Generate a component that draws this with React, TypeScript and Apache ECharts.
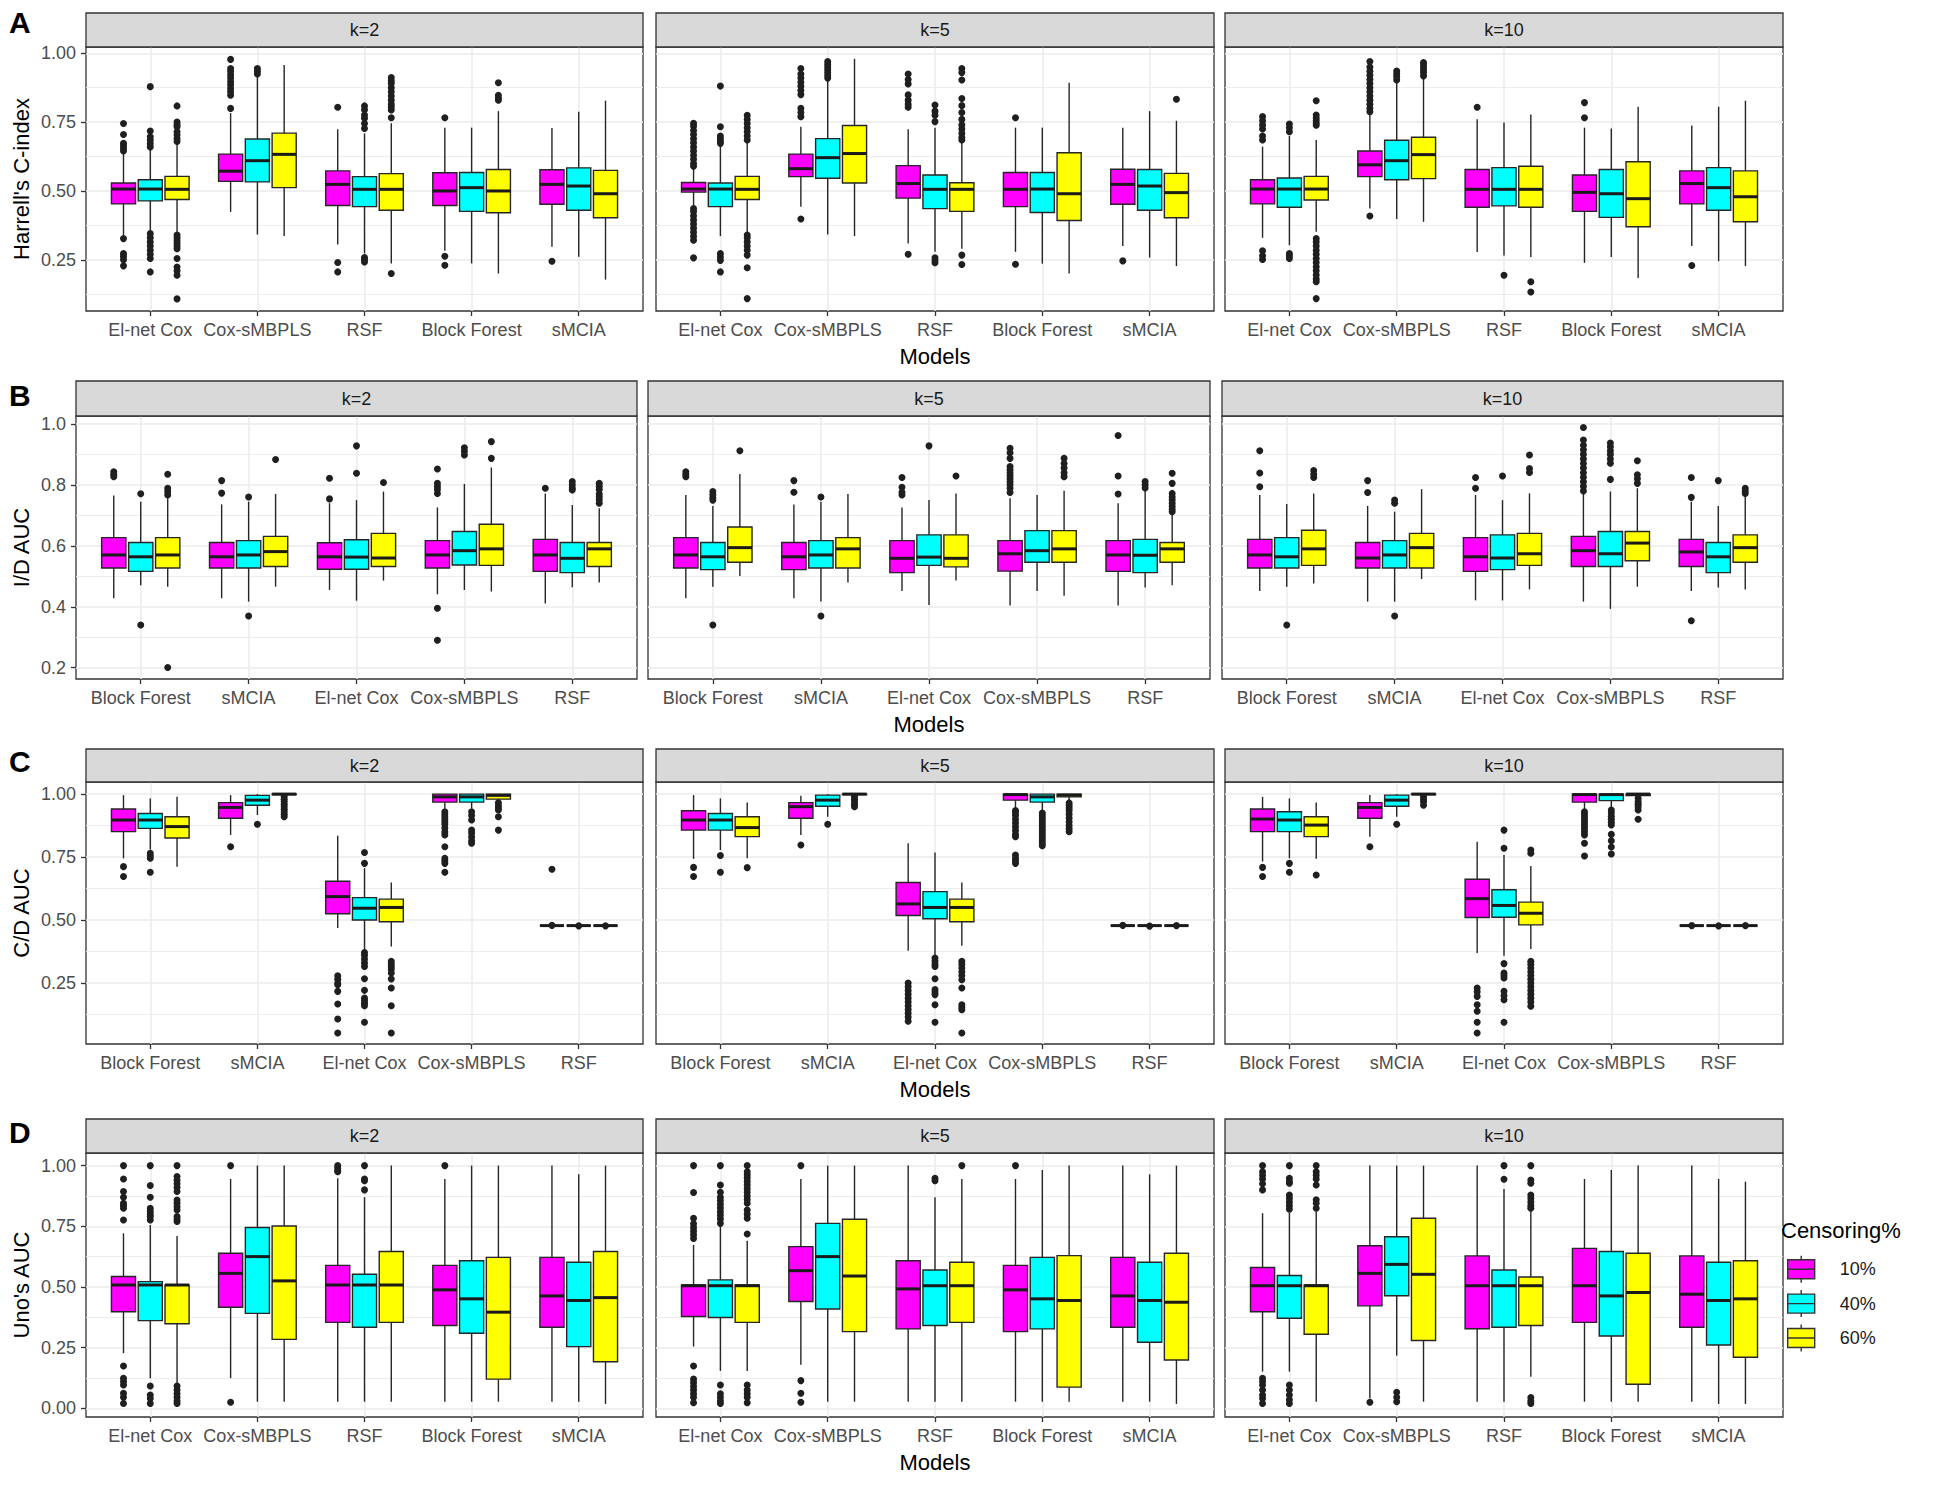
import React, { useEffect, useRef } from "react";
import * as echarts from "echarts";

// ---------- categories / labels ----------
const modelsAD = ["El-net Cox", "Cox-sMBPLS", "RSF", "Block Forest", "sMCIA"];
const modelsBC = ["Block Forest", "sMCIA", "El-net Cox", "Cox-sMBPLS", "RSF"];
const facets = ["k=2", "k=5", "k=10"];
const censoring = ["10%", "40%", "60%"];
const fills = ["#FF00FF", "#00FFFF", "#FFFF00"];

const ticksA = [0.25, 0.5, 0.75, 1.0];
const minorA = [0.125, 0.375, 0.625, 0.875];
const ticksB = [0.2, 0.4, 0.6, 0.8, 1.0];
const minorB = [0.3, 0.5, 0.7, 0.9];
const ticksC = [0.25, 0.5, 0.75, 1.0];
const minorC = [0.125, 0.375, 0.625, 0.875];
const ticksD = [0, 0.25, 0.5, 0.75, 1.0];
const minorD = [0.125, 0.375, 0.625, 0.875];

// box = [lower whisker, Q1, median, Q3, upper whisker]; [censoring][model]
// ---------- A: Harrell's C-index ----------
const harrellK2Box = [
  [[0.340, 0.453, 0.507, 0.529, 0.640], [0.424, 0.535, 0.572, 0.634, 0.783], [0.306, 0.447, 0.524, 0.573, 0.724], [0.283, 0.447, 0.500, 0.566, 0.730], [0.297, 0.452, 0.524, 0.577, 0.729]],
  [[0.350, 0.464, 0.507, 0.541, 0.655], [0.342, 0.533, 0.610, 0.689, 0.920], [0.273, 0.443, 0.506, 0.552, 0.709], [0.237, 0.426, 0.512, 0.567, 0.730], [0.261, 0.430, 0.518, 0.584, 0.788]],
  [[0.350, 0.469, 0.506, 0.553, 0.675], [0.336, 0.512, 0.633, 0.710, 0.958], [0.237, 0.430, 0.506, 0.563, 0.746], [0.200, 0.421, 0.500, 0.578, 0.790], [0.178, 0.403, 0.490, 0.575, 0.828]],
];
const harrellK2Out = [
  [[0.745, 0.705, 0.673, 0.665, 0.655, 0.645, 0.327, 0.273, 0.262, 0.250, 0.228], [0.800, 0.848, 0.860, 0.872, 0.885, 0.897, 0.910, 0.922, 0.935, 0.945, 0.978], [0.804, 0.240, 0.206], [0.766, 0.263, 0.230], [0.245]],
  [[0.879, 0.718, 0.697, 0.685, 0.672, 0.660, 0.345, 0.330, 0.315, 0.300, 0.285, 0.270, 0.255, 0.206], [0.925, 0.935, 0.945], [0.809, 0.795, 0.776, 0.764, 0.745, 0.727, 0.258, 0.250, 0.242], [], []],
  [[0.809, 0.750, 0.740, 0.733, 0.715, 0.703, 0.690, 0.680, 0.340, 0.330, 0.320, 0.310, 0.300, 0.290, 0.255, 0.224, 0.210, 0.194, 0.108], [], [0.766, 0.794, 0.805, 0.815, 0.830, 0.845, 0.860, 0.875, 0.890, 0.900, 0.912, 0.200], [0.893, 0.848, 0.838, 0.830], []],
];
const harrellK5Box = [
  [[0.443, 0.496, 0.507, 0.531, 0.584], [0.443, 0.552, 0.581, 0.634, 0.733], [0.309, 0.474, 0.527, 0.592, 0.724], [0.279, 0.443, 0.506, 0.567, 0.730], [0.300, 0.452, 0.524, 0.579, 0.730]],
  [[0.336, 0.443, 0.507, 0.529, 0.660], [0.342, 0.546, 0.621, 0.690, 0.903], [0.279, 0.436, 0.506, 0.558, 0.730], [0.236, 0.422, 0.507, 0.567, 0.730], [0.258, 0.430, 0.518, 0.578, 0.790]],
  [[0.350, 0.469, 0.506, 0.553, 0.680], [0.336, 0.529, 0.636, 0.738, 0.980], [0.290, 0.426, 0.506, 0.530, 0.677], [0.200, 0.393, 0.490, 0.639, 0.893], [0.227, 0.403, 0.494, 0.564, 0.755]],
];
const harrellK5Out = [
  [[0.746, 0.735, 0.720, 0.705, 0.690, 0.675, 0.660, 0.645, 0.630, 0.615, 0.600, 0.590, 0.436, 0.425, 0.410, 0.395, 0.380, 0.365, 0.350, 0.335, 0.321, 0.257], [0.770, 0.785, 0.800, 0.850, 0.865, 0.880, 0.895, 0.910, 0.925, 0.945, 0.398], [0.804, 0.815, 0.830, 0.849, 0.889, 0.905, 0.925, 0.270], [0.766, 0.234], [0.246]],
  [[0.881, 0.733, 0.700, 0.690, 0.680, 0.673, 0.273, 0.260, 0.248, 0.206], [0.910, 0.920, 0.930, 0.940, 0.950, 0.960, 0.970], [0.812, 0.790, 0.775, 0.752, 0.257, 0.248, 0.239], [], []],
  [[0.775, 0.760, 0.745, 0.730, 0.715, 0.700, 0.685, 0.340, 0.330, 0.315, 0.300, 0.285, 0.267, 0.221, 0.109], [], [0.945, 0.930, 0.903, 0.836, 0.810, 0.785, 0.760, 0.740, 0.725, 0.710, 0.695, 0.685, 0.267, 0.233], [], [0.833]],
];
const harrellK10Box = [
  [[0.330, 0.453, 0.507, 0.541, 0.661], [0.436, 0.552, 0.595, 0.645, 0.782], [0.278, 0.441, 0.506, 0.578, 0.761], [0.239, 0.426, 0.495, 0.558, 0.730], [0.300, 0.453, 0.527, 0.573, 0.738]],
  [[0.303, 0.441, 0.507, 0.547, 0.700], [0.398, 0.541, 0.610, 0.684, 0.897], [0.266, 0.446, 0.506, 0.585, 0.749], [0.260, 0.404, 0.490, 0.578, 0.727], [0.245, 0.430, 0.512, 0.585, 0.806]],
  [[0.352, 0.467, 0.507, 0.553, 0.685], [0.388, 0.545, 0.632, 0.695, 0.915], [0.260, 0.441, 0.506, 0.590, 0.778], [0.184, 0.370, 0.472, 0.606, 0.806], [0.227, 0.388, 0.479, 0.573, 0.828]],
];
const harrellK10Out = [
  [[0.770, 0.755, 0.740, 0.725, 0.700, 0.685, 0.283, 0.265, 0.251], [0.788, 0.800, 0.815, 0.830, 0.845, 0.860, 0.875, 0.890, 0.905, 0.920, 0.935, 0.950, 0.970, 0.409], [0.804], [0.821, 0.766], [0.229]],
  [[0.743, 0.730, 0.715, 0.273, 0.264, 0.255], [0.903, 0.915, 0.925, 0.936], [0.194], [], []],
  [[0.828, 0.776, 0.765, 0.755, 0.745, 0.739, 0.327, 0.315, 0.300, 0.285, 0.270, 0.255, 0.240, 0.225, 0.210, 0.195, 0.180, 0.170, 0.109], [0.918, 0.930, 0.940, 0.950, 0.960, 0.967], [0.170, 0.133], [], []],
];

// ---------- B: I/D AUC ----------
const idK2Box = [
  [[0.428, 0.527, 0.570, 0.627, 0.765], [0.428, 0.527, 0.564, 0.611, 0.736], [0.455, 0.523, 0.564, 0.610, 0.740], [0.441, 0.527, 0.570, 0.617, 0.726], [0.411, 0.516, 0.570, 0.621, 0.772]],
  [[0.471, 0.516, 0.564, 0.611, 0.745], [0.417, 0.527, 0.570, 0.617, 0.745], [0.420, 0.523, 0.563, 0.620, 0.750], [0.455, 0.537, 0.584, 0.647, 0.803], [0.464, 0.512, 0.559, 0.611, 0.734]],
  [[0.466, 0.527, 0.570, 0.627, 0.756], [0.466, 0.532, 0.581, 0.631, 0.770], [0.486, 0.532, 0.560, 0.641, 0.778], [0.450, 0.536, 0.590, 0.671, 0.857], [0.480, 0.532, 0.590, 0.611, 0.723]],
];
const idK2Out = [
  [[0.843, 0.835, 0.827], [0.814, 0.773], [0.822, 0.754], [0.852, 0.805, 0.795, 0.785, 0.772, 0.395, 0.290], [0.789]],
  [[0.771, 0.340], [0.760, 0.370], [0.838, 0.928], [0.922, 0.910, 0.898], [0.811, 0.800, 0.790, 0.783]],
  [[0.835, 0.789, 0.778, 0.767, 0.201], [0.883], [0.808], [0.887, 0.942], [0.805, 0.795, 0.785, 0.770, 0.760, 0.750, 0.740]],
];
const idK5Box = [
  [[0.428, 0.527, 0.570, 0.627, 0.767], [0.428, 0.522, 0.564, 0.611, 0.736], [0.452, 0.512, 0.559, 0.617, 0.726], [0.404, 0.517, 0.574, 0.617, 0.756], [0.404, 0.516, 0.570, 0.617, 0.740]],
  [[0.466, 0.522, 0.564, 0.611, 0.731], [0.417, 0.527, 0.570, 0.617, 0.745], [0.406, 0.536, 0.563, 0.636, 0.750], [0.452, 0.546, 0.584, 0.650, 0.767], [0.463, 0.512, 0.569, 0.621, 0.780]],
  [[0.501, 0.546, 0.594, 0.662, 0.836], [0.480, 0.527, 0.590, 0.627, 0.770], [0.486, 0.531, 0.559, 0.636, 0.772], [0.436, 0.546, 0.590, 0.650, 0.781], [0.471, 0.546, 0.590, 0.611, 0.707]],
];
const idK5Out = [
  [[0.843, 0.835, 0.827], [0.814, 0.776], [0.824, 0.792, 0.776, 0.767], [0.920, 0.905, 0.887, 0.860, 0.850, 0.840, 0.830, 0.820, 0.810, 0.800, 0.789, 0.775], [0.962, 0.829, 0.770]],
  [[0.778, 0.768, 0.758, 0.750, 0.340], [0.760, 0.370], [0.928], [], [0.811, 0.800, 0.790]],
  [[0.912], [], [0.829], [0.887, 0.870, 0.855, 0.840, 0.827], [0.838, 0.805, 0.772, 0.760, 0.750, 0.740, 0.730, 0.720, 0.712]],
];
const idK10Box = [
  [[0.452, 0.527, 0.570, 0.621, 0.767], [0.417, 0.527, 0.560, 0.611, 0.731], [0.421, 0.516, 0.564, 0.627, 0.767], [0.417, 0.532, 0.584, 0.631, 0.772], [0.452, 0.532, 0.580, 0.621, 0.745]],
  [[0.466, 0.527, 0.564, 0.627, 0.737], [0.417, 0.527, 0.570, 0.617, 0.712], [0.421, 0.522, 0.560, 0.636, 0.750], [0.393, 0.532, 0.574, 0.647, 0.778], [0.463, 0.512, 0.564, 0.611, 0.731]],
  [[0.476, 0.536, 0.590, 0.651, 0.772], [0.491, 0.527, 0.594, 0.641, 0.786], [0.457, 0.536, 0.574, 0.641, 0.772], [0.466, 0.551, 0.609, 0.647, 0.789], [0.457, 0.546, 0.594, 0.636, 0.762]],
];
const idK10Out = [
  [[0.912, 0.839, 0.794], [0.814, 0.775], [0.824, 0.789], [0.988, 0.947, 0.930, 0.915, 0.900, 0.885, 0.870, 0.855, 0.840, 0.825, 0.810, 0.795, 0.780], [0.824, 0.759, 0.354]],
  [[0.340], [0.750, 0.740, 0.370], [0.829], [0.937, 0.925, 0.912, 0.900, 0.885, 0.871, 0.818], [0.814]],
  [[0.847, 0.835, 0.824], [], [0.898, 0.854, 0.841], [0.879, 0.833, 0.820, 0.805], [0.789, 0.780, 0.772]],
];

// ---------- C: C/D AUC ----------
const cdK2Box = [
  [[0.745, 0.851, 0.897, 0.941, 0.996], [0.838, 0.904, 0.947, 0.966, 0.996], [0.468, 0.525, 0.593, 0.654, 0.835], [0.943, 0.968, 0.989, 1.0, 1.0], [0.478, 0.478, 0.478, 0.478, 0.478]],
  [[0.780, 0.864, 0.897, 0.923, 0.983], [0.917, 0.956, 0.976, 0.995, 1.0], [0.379, 0.500, 0.547, 0.589, 0.706], [0.943, 0.968, 0.989, 1.0, 1.0], [0.478, 0.478, 0.478, 0.478, 0.478]],
  [[0.712, 0.826, 0.871, 0.910, 0.989], [0.994, 0.998, 1.0, 1.0, 1.0], [0.395, 0.493, 0.550, 0.583, 0.649], [0.970, 0.980, 0.995, 1.0, 1.0], [0.478, 0.478, 0.478, 0.478, 0.478]],
];
const cdK2Out = [
  [[0.712, 0.673], [0.791], [0.279, 0.265, 0.250, 0.243, 0.217, 0.167, 0.107, 0.052], [0.930, 0.920, 0.910, 0.900, 0.890, 0.880, 0.865, 0.850, 0.838, 0.791, 0.745, 0.735, 0.725, 0.690], [0.479, 0.702]],
  [[0.765, 0.755, 0.745, 0.690], [0.880], [0.768, 0.725, 0.371, 0.360, 0.345, 0.330, 0.316, 0.267, 0.221, 0.190, 0.180, 0.170, 0.160, 0.094], [0.930, 0.915, 0.897, 0.857, 0.845, 0.830, 0.815, 0.805], [0.477]],
  [[], [0.990, 0.980, 0.970, 0.960, 0.950, 0.940, 0.930, 0.920, 0.910], [0.336, 0.325, 0.315, 0.305, 0.290, 0.266, 0.230, 0.160, 0.052], [0.966, 0.955, 0.945, 0.937, 0.910, 0.857], [0.477]],
];
const cdK5Box = [
  [[0.743, 0.857, 0.897, 0.934, 0.996], [0.838, 0.904, 0.950, 0.966, 0.993], [0.378, 0.518, 0.564, 0.649, 0.805], [0.945, 0.976, 0.998, 1.0, 1.0], [0.478, 0.478, 0.478, 0.478, 0.478]],
  [[0.778, 0.857, 0.897, 0.923, 0.983], [0.910, 0.952, 0.976, 0.996, 1.0], [0.356, 0.505, 0.550, 0.613, 0.768], [0.935, 0.968, 0.989, 1.0, 1.0], [0.478, 0.478, 0.478, 0.478, 0.478]],
  [[0.745, 0.831, 0.867, 0.910, 0.967], [0.994, 0.998, 1.0, 1.0, 1.0], [0.398, 0.493, 0.550, 0.583, 0.649], [0.975, 0.989, 0.996, 1.0, 1.0], [0.478, 0.478, 0.478, 0.478, 0.478]],
];
const cdK5Out = [
  [[0.709, 0.673], [0.798], [0.250, 0.235, 0.220, 0.205, 0.190, 0.175, 0.160, 0.145, 0.130, 0.115, 0.098], [0.935, 0.925, 0.915, 0.900, 0.885, 0.870, 0.855, 0.840, 0.831, 0.758, 0.745, 0.735, 0.725], [0.479]],
  [[0.756, 0.690], [0.880], [0.349, 0.337, 0.325, 0.316, 0.267, 0.224, 0.214, 0.204, 0.164, 0.094], [0.925, 0.915, 0.905, 0.895, 0.885, 0.875, 0.865, 0.855, 0.845, 0.835, 0.825, 0.815, 0.805, 0.795], [0.476]],
  [[0.708], [0.990, 0.980, 0.970, 0.960, 0.950], [0.336, 0.325, 0.310, 0.295, 0.280, 0.263, 0.230, 0.164, 0.154, 0.144, 0.052], [0.965, 0.955, 0.945, 0.935, 0.920, 0.905, 0.890, 0.875, 0.862, 0.851], [0.478]],
];
const cdK10Box = [
  [[0.732, 0.851, 0.901, 0.941, 0.989], [0.831, 0.904, 0.947, 0.966, 0.996], [0.369, 0.510, 0.585, 0.662, 0.811], [0.940, 0.968, 0.998, 1.0, 1.0], [0.478, 0.478, 0.478, 0.478, 0.478]],
  [[0.745, 0.851, 0.897, 0.930, 0.983], [0.910, 0.952, 0.976, 0.996, 1.0], [0.358, 0.511, 0.558, 0.620, 0.758], [0.945, 0.974, 0.998, 1.0, 1.0], [0.478, 0.478, 0.478, 0.478, 0.478]],
  [[0.743, 0.831, 0.877, 0.910, 0.967], [0.994, 0.998, 1.0, 1.0, 1.0], [0.385, 0.481, 0.527, 0.571, 0.715], [0.990, 0.994, 1.0, 1.0, 1.0], [0.478, 0.478, 0.478, 0.478, 0.478]],
];
const cdK10Out = [
  [[0.709, 0.673], [0.791], [0.230, 0.215, 0.197, 0.164, 0.138, 0.094, 0.052], [0.930, 0.920, 0.910, 0.900, 0.890, 0.880, 0.870, 0.860, 0.850, 0.838, 0.805, 0.754], [0.478]],
  [[0.725, 0.690], [0.880], [0.857, 0.785, 0.327, 0.290, 0.280, 0.270, 0.217, 0.200, 0.184, 0.094], [0.937, 0.925, 0.912, 0.900, 0.888, 0.877, 0.840, 0.815, 0.790, 0.762], [0.477]],
  [[0.679], [0.990, 0.980, 0.970, 0.956], [0.778, 0.765, 0.336, 0.325, 0.310, 0.295, 0.280, 0.265, 0.250, 0.235, 0.220, 0.205, 0.190, 0.175, 0.158], [0.983, 0.970, 0.960, 0.950, 0.937, 0.900], [0.478]],
];

// ---------- D: Uno's AUC ----------
const unoK2Box = [
  [[0.227, 0.398, 0.508, 0.543, 0.721], [0.124, 0.416, 0.556, 0.639, 0.945], [0.027, 0.354, 0.508, 0.589, 0.948], [0.027, 0.341, 0.488, 0.589, 0.945], [0.027, 0.334, 0.463, 0.622, 1.0]],
  [[0.124, 0.361, 0.508, 0.522, 0.755], [0.027, 0.391, 0.625, 0.745, 1.0], [0.027, 0.334, 0.508, 0.552, 0.870], [0.027, 0.309, 0.451, 0.608, 1.0], [0.027, 0.254, 0.444, 0.602, 0.964]],
  [[0.100, 0.348, 0.508, 0.508, 0.710], [0.027, 0.284, 0.525, 0.751, 1.0], [0.027, 0.354, 0.508, 0.646, 1.0], [0.027, 0.120, 0.396, 0.622, 1.0], [0.018, 0.192, 0.456, 0.646, 1.0]],
];
const unoK2Out = [
  [[0.776, 0.824, 0.835, 0.845, 0.870, 0.893, 0.945, 1.0, 0.174, 0.124, 0.110, 0.096, 0.062, 0.045, 0.020], [1.0, 0.025], [1.0, 0.990, 0.980, 0.975], [1.0], []],
  [[0.776, 0.790, 0.800, 0.812, 0.824, 0.870, 0.918, 1.0, 0.092, 0.055, 0.040, 0.020], [], [0.900, 0.938, 0.945, 1.0], [], []],
  [[0.770, 0.780, 0.790, 0.817, 0.830, 0.845, 0.858, 0.893, 0.910, 0.925, 0.940, 0.955, 1.0, 0.092, 0.075, 0.060, 0.045, 0.030, 0.020], [], [], [], []],
];
const unoK5Box = [
  [[0.254, 0.378, 0.505, 0.508, 0.673], [0.179, 0.440, 0.567, 0.666, 0.945], [0.027, 0.327, 0.492, 0.608, 1.0], [0.027, 0.316, 0.488, 0.589, 0.945], [0.027, 0.334, 0.463, 0.622, 1.0]],
  [[0.154, 0.374, 0.505, 0.529, 0.755], [0.027, 0.409, 0.625, 0.762, 1.0], [0.027, 0.341, 0.505, 0.570, 0.870], [0.027, 0.327, 0.451, 0.622, 0.982], [0.027, 0.272, 0.444, 0.602, 0.964]],
  [[0.154, 0.354, 0.505, 0.508, 0.690], [0.027, 0.316, 0.545, 0.779, 1.0], [0.027, 0.354, 0.505, 0.602, 0.945], [0.027, 0.087, 0.444, 0.629, 1.0], [0.018, 0.199, 0.437, 0.639, 1.0]],
];
const unoK5Out = [
  [[0.700, 0.715, 0.730, 0.745, 0.760, 0.783, 0.889, 1.0, 0.174, 0.120, 0.105, 0.090, 0.075, 0.060, 0.045, 0.023], [1.0, 0.114, 0.062, 0.025], [], [1.0], []],
  [[0.762, 0.780, 0.795, 0.810, 0.825, 0.840, 0.855, 0.870, 0.890, 0.920, 1.0, 0.096, 0.060, 0.045, 0.030, 0.020], [], [0.948, 0.938], [], []],
  [[0.718, 0.783, 0.800, 0.817, 0.845, 0.860, 0.875, 0.890, 0.905, 0.920, 0.935, 0.950, 0.962, 0.975, 1.0, 0.096, 0.075, 0.060, 0.045, 0.023], [], [1.0], [], []],
];
const unoK10Box = [
  [[0.151, 0.398, 0.505, 0.580, 0.804], [0.040, 0.422, 0.556, 0.670, 1.0], [0.027, 0.328, 0.505, 0.628, 1.0], [0.027, 0.354, 0.505, 0.659, 0.945], [0.027, 0.334, 0.470, 0.628, 1.0]],
  [[0.151, 0.371, 0.505, 0.547, 0.805], [0.217, 0.464, 0.593, 0.707, 1.0], [0.027, 0.334, 0.505, 0.570, 0.904], [0.027, 0.298, 0.463, 0.646, 0.982], [0.018, 0.261, 0.444, 0.602, 0.945]],
  [[0.027, 0.305, 0.505, 0.508, 0.810], [0.027, 0.279, 0.552, 0.783, 1.0], [0.130, 0.341, 0.505, 0.541, 0.815], [0.027, 0.099, 0.477, 0.639, 1.0], [0.018, 0.210, 0.451, 0.608, 0.934]],
];
const unoK10Out = [
  [[1.0, 0.975, 0.960, 0.945, 0.925, 0.900, 0.124, 0.110, 0.096, 0.075, 0.055, 0.040, 0.020], [0.025], [], [], []],
  [[1.0, 0.948, 0.935, 0.927, 0.879, 0.865, 0.850, 0.835, 0.820, 0.096, 0.075, 0.055, 0.035, 0.020], [0.066, 0.045, 0.027], [1.0, 0.944], [], []],
  [[1.0, 0.975, 0.960, 0.945, 0.920, 0.859, 0.845, 0.824], [], [1.0, 0.941, 0.927, 0.879, 0.865, 0.850, 0.835, 0.824, 0.044, 0.030, 0.020], [], []],
];

// ---------- panel rows ----------
const rows = [
  { letter: "A", title: "Harrell's C-index", models: modelsAD, ticks: ticksA, minor: minorA, digits: 2, yMin: 0.064, yMax: 1.023,
    boxes: [harrellK2Box, harrellK5Box, harrellK10Box], outs: [harrellK2Out, harrellK5Out, harrellK10Out] },
  { letter: "B", title: "I/D AUC", models: modelsBC, ticks: ticksB, minor: minorB, digits: 1, yMin: 0.163, yMax: 1.026,
    boxes: [idK2Box, idK5Box, idK10Box], outs: [idK2Out, idK5Out, idK10Out] },
  { letter: "C", title: "C/D AUC", models: modelsBC, ticks: ticksC, minor: minorC, digits: 2, yMin: 0.008, yMax: 1.048,
    boxes: [cdK2Box, cdK5Box, cdK10Box], outs: [cdK2Out, cdK5Out, cdK10Out] },
  { letter: "D", title: "Uno's AUC", models: modelsAD, ticks: ticksD, minor: minorD, digits: 2, yMin: -0.036, yMax: 1.052,
    boxes: [unoK2Box, unoK5Box, unoK10Box], outs: [unoK2Out, unoK5Out, unoK10Out] },
];

// layout (pixels)
const LAYOUT = [
  { stripTop: 13, top: 47, height: 264, lefts: [86, 656, 1225], widths: [557, 558, 558], nameGap: 54, letterY: 22 },
  { stripTop: 381, top: 416, height: 263, lefts: [76, 648, 1222], widths: [561, 562, 561], nameGap: 44, letterY: 395 },
  { stripTop: 749, top: 782, height: 262, lefts: [86, 656, 1225], widths: [557, 558, 558], nameGap: 54, letterY: 761 },
  { stripTop: 1119, top: 1153, height: 264, lefts: [86, 656, 1225], widths: [557, 558, 558], nameGap: 54, letterY: 1132 },
];

const FONT = "Liberation Sans, Arial, Helvetica, sans-serif";
const DODGE = [-0.25, 0, 0.25];
const HALF = 0.1125;
const LINE = "#262626";

function makeRender(j: number) {
  return (params: any, api: any) => {
    const x = api.value(0) + DODGE[j];
    const lo = api.coord([x, api.value(1)]);
    const q1 = api.coord([x - HALF, api.value(2)]);
    const medL = api.coord([x - HALF, api.value(3)]);
    const medR = api.coord([x + HALF, api.value(3)]);
    const q3 = api.coord([x + HALF, api.value(4)]);
    const hi = api.coord([x, api.value(5)]);
    return {
      type: "group",
      children: [
        { type: "line", shape: { x1: lo[0], y1: lo[1], x2: lo[0], y2: q1[1] }, style: { stroke: LINE, lineWidth: 1.4 } },
        { type: "line", shape: { x1: hi[0], y1: hi[1], x2: hi[0], y2: q3[1] }, style: { stroke: LINE, lineWidth: 1.4 } },
        { type: "rect", shape: { x: q1[0], y: q3[1], width: q3[0] - q1[0], height: q1[1] - q3[1] },
          style: { fill: fills[j], stroke: LINE, lineWidth: 1.4 } },
        { type: "line", shape: { x1: medL[0], y1: medL[1], x2: medR[0], y2: medR[1] }, style: { stroke: "#1a1a1a", lineWidth: 3 } },
      ],
    };
  };
}

function buildOption() {
  const grid: any[] = [];
  const xAxis: any[] = [];
  const yAxis: any[] = [];
  const series: any[] = [];
  const graphic: any[] = [];
  const catIdx = [0, 1, 2, 3, 4];

  rows.forEach((row, r) => {
    const L = LAYOUT[r];
    graphic.push({
      type: "text", x: 9, y: L.letterY, silent: true,
      style: { text: row.letter, font: `bold 30px ${FONT}`, fill: "#000", textVerticalAlign: "middle", verticalAlign: "middle" },
    });
    facets.forEach((f, c) => {
      const gi = r * 3 + c;
      const left = L.lefts[c];
      const width = L.widths[c];
      grid.push({
        left, top: L.top, width, height: L.height, show: true, backgroundColor: "#fff",
        borderColor: "#333333", borderWidth: 1.3, containLabel: false, outerBoundsMode: "none",
      });
      // strip
      graphic.push({
        type: "rect", silent: true, z: 5,
        shape: { x: left, y: L.stripTop, width, height: L.top - L.stripTop },
        style: { fill: "#D9D9D9", stroke: "#333333", lineWidth: 1.3 },
      });
      graphic.push({
        type: "text", silent: true, z: 6, x: left + width / 2, y: (L.stripTop + L.top) / 2,
        style: { text: f, font: `18px ${FONT}`, fill: "#1A1A1A", textAlign: "center", align: "center", textVerticalAlign: "middle", verticalAlign: "middle" },
      });
      xAxis.push({
        type: "value", gridIndex: gi, min: -0.6, max: 4.6, position: "bottom",
        axisLine: { show: false, onZero: false },
        axisTick: { show: true, customValues: catIdx, length: 5, lineStyle: { color: "#333333", width: 1.3 } },
        axisLabel: {
          show: true, customValues: catIdx, formatter: (v: number) => row.models[Math.round(v)],
          fontSize: 18, color: "#4D4D4D", margin: 10, hideOverlap: false, fontFamily: FONT,
        },
        splitLine: { show: true, lineStyle: { color: "#EBEBEB", width: 1.5 } },
        name: c === 1 ? "Models" : "", nameLocation: "middle", nameGap: 34,
        nameTextStyle: { fontSize: 22, color: "#000", fontFamily: FONT },
      });
      yAxis.push({
        type: "value", gridIndex: gi, min: row.yMin, max: row.yMax, position: "left",
        axisLine: { show: false, onZero: false },
        axisTick: { show: c === 0, customValues: row.ticks, length: 5, lineStyle: { color: "#333333", width: 1.3 } },
        axisLabel: {
          show: c === 0, customValues: row.ticks, formatter: (v: number) => v.toFixed(row.digits),
          fontSize: 18, color: "#4D4D4D", margin: 10, hideOverlap: false, fontFamily: FONT,
        },
        splitLine: { show: true, lineStyle: { color: "#EBEBEB", width: 1.5 } },
        name: c === 0 ? row.title : "", nameLocation: "middle", nameRotate: 90, nameGap: L.nameGap,
        nameTextStyle: { fontSize: 22, color: "#000", fontFamily: FONT },
      });
      yAxis.push({
        type: "value", gridIndex: gi, position: "right", min: row.yMin, max: row.yMax,
        axisLine: { show: false, onZero: false },
        axisTick: { show: false, customValues: row.minor },
        axisLabel: { show: false, customValues: row.minor },
        splitLine: { show: true, lineStyle: { color: "#EBEBEB", width: 0.9 } },
      });
      censoring.forEach((cname, j) => {
        const boxes = row.boxes[c][j];
        const outs = row.outs[c][j];
        series.push({
          type: "custom", name: cname, xAxisIndex: gi, yAxisIndex: gi * 2,
          data: boxes.map((b: number[], k: number) => [k, ...b]),
          encode: { x: 0, y: [1, 2, 3, 4, 5] },
          renderItem: makeRender(j), z: 2, silent: true,
          itemStyle: { color: fills[j] },
        });
        const pts: number[][] = [];
        outs.forEach((vals: number[], k: number) => vals.forEach((v) => pts.push([k + DODGE[j], v])));
        series.push({
          type: "scatter", name: cname, xAxisIndex: gi, yAxisIndex: gi * 2,
          data: pts, symbol: "circle", symbolSize: 7, z: 3, silent: true,
          itemStyle: { color: "#1f1f1f", opacity: 1 },
        });
      });
    });
  });

  graphic.push({
    type: "text", x: 1781, y: 1230, silent: true,
    style: { text: "Censoring%", font: `22px ${FONT}`, fill: "#000", textVerticalAlign: "middle", verticalAlign: "middle" },
  });

  const keyIcon = "path://M0,4H27V23H0Z M0,13.5H27 M13.5,0V4 M13.5,23V27";

  return {
    animation: false,
    backgroundColor: "#fff",
    textStyle: { fontFamily: FONT },
    grid, xAxis, yAxis, series, graphic,
    legend: {
      orient: "vertical", left: 1782, top: 1250, itemWidth: 27, itemHeight: 27, itemGap: 6,
      selectedMode: false,
      data: censoring.map((c, i) => ({
        name: c, icon: keyIcon,
        itemStyle: { color: fills[i], borderColor: "#333333", borderWidth: 1.4 },
      })),
      textStyle: { fontSize: 18, color: "#1a1a1a", fontFamily: FONT, padding: [0, 0, 0, 20] },
    },
  };
}

export default function App() {
  const ref = useRef<HTMLDivElement>(null);
  useEffect(() => {
    document.body.style.margin = "0";
    if (!ref.current) return;
    const chart = echarts.init(ref.current, null, { renderer: "svg" });
    chart.setOption(buildOption() as any);
    return () => chart.dispose();
  }, []);
  return <div ref={ref} style={{ width: 1950, height: 1486, background: "#fff" }} />;
}
